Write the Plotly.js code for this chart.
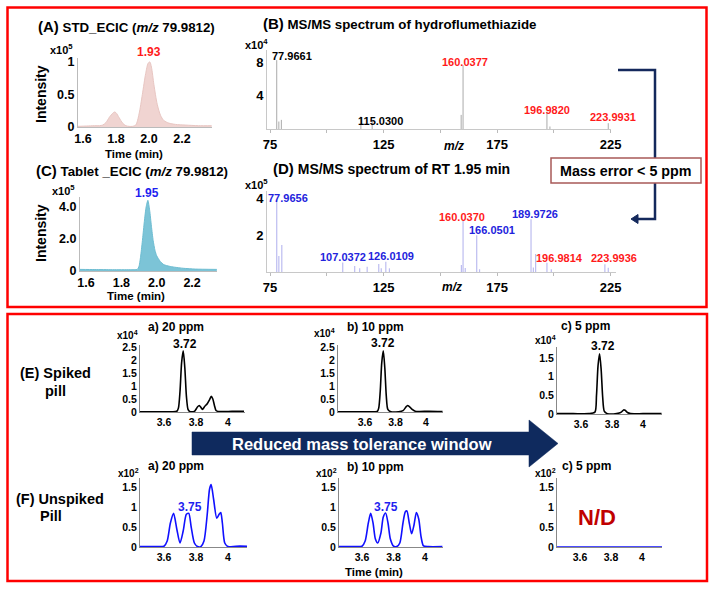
<!DOCTYPE html>
<html><head><meta charset="utf-8">
<script src="https://cdn.plot.ly/plotly-3.0.1.min.js"></script>
<style>html,body{margin:0;padding:0;background:#fff}#chart{width:715px;height:589px}</style>
</head><body><div id="chart"></div>
<script>
// ---------------- DATA ----------------
// (A) STD ECIC, intensity x10^5
const aTime = [1.57,1.62,1.67,1.70,1.72,1.74,1.76,1.78,1.79,1.80,1.82,1.84,1.86,1.88,1.90,1.92,1.94,1.96,1.98,1.995,2.005,2.015,2.03,2.05,2.07,2.09,2.12,2.16,2.22,2.30,2.38];
const aInt  = [0.01,0.015,0.02,0.02,0.03,0.07,0.15,0.21,0.23,0.22,0.14,0.06,0.02,0.01,0.01,0.03,0.2,0.5,0.82,0.98,1.0,0.92,0.65,0.35,0.18,0.1,0.06,0.04,0.03,0.02,0.02];
// (C) Tablet ECIC, intensity x10^5
const cTime = [1.566,1.65,1.75,1.85,1.89,1.90,1.91,1.92,1.93,1.94,1.95,1.96,1.97,1.98,1.99,2.00,2.02,2.04,2.07,2.10,2.15,2.22,2.34];
const cInt  = [0.1,0.09,0.08,0.08,0.1,0.3,1.0,2.0,3.1,4.0,4.42,3.8,2.8,1.9,1.3,0.95,0.6,0.4,0.3,0.24,0.17,0.12,0.1];
// (B) MS/MS spectrum of standard, intensity x10^4
const bMz  = [77.9661,78.9,80.0,115.03,120.0,159.2,160.0377,196.982,198.3,223.9931];
const bInt = [8.3,0.9,1.1,1.5,0.85,1.7,7.7,2.1,0.3,0.7];
// (D) MS/MS spectrum of RT 1.95 min, intensity x10^5
const dMz  = [77.9656,78.9,80.2,107.0372,112.3,114.5,117.8,122.9,124.0,126.0109,127.6,159.3,160.037,161.0,166.0501,167.3,189.9726,191.0,192.0,196.9814,198.9,222.5,223.9936];
const dInt = [3.82,0.87,1.47,0.52,0.33,0.2,0.29,0.44,0.2,0.56,0.2,0.38,2.79,0.22,2.0,0.15,2.86,0.25,0.98,0.5,0.15,0.42,0.23];
// (E) Spiked pill EIC, intensity x10^4
const eaTime = [3.45,3.50,3.55,3.60,3.65,3.68,3.69,3.70,3.71,3.72,3.73,3.74,3.75,3.76,3.78,3.79,3.81,3.82,3.83,3.84,3.855,3.87,3.885,3.895,3.905,3.915,3.925,3.94,4.00,4.05,4.10];
const eaInt  = [0.01,0.01,0.01,0.01,0.01,0.03,0.15,0.8,1.9,2.35,1.7,0.6,0.1,0.02,0.01,0.02,0.2,0.25,0.18,0.1,0.22,0.32,0.48,0.6,0.5,0.25,0.06,0.02,0.02,0.03,0.03];
const ebTime = [3.42,3.55,3.65,3.68,3.69,3.70,3.71,3.72,3.73,3.74,3.75,3.77,3.82,3.85,3.87,3.88,3.89,3.91,3.93,3.96,4.02,4.11];
const ebInt  = [0.01,0.01,0.01,0.02,0.15,0.8,1.9,2.35,1.7,0.6,0.1,0.01,0.01,0.05,0.2,0.25,0.22,0.1,0.03,0.02,0.03,0.02];
const ecTime = [3.445,3.55,3.65,3.69,3.70,3.71,3.72,3.73,3.74,3.75,3.77,3.83,3.86,3.875,3.885,3.90,3.92,4.0,4.12];
const ecInt  = [0.01,0.01,0.01,0.05,0.5,1.3,1.62,1.2,0.45,0.08,0.01,0.01,0.05,0.11,0.1,0.04,0.01,0.01,0.01];
// (F) Unspiked pill EIC, intensity x10^2
const faTime = [3.45,3.55,3.60,3.62,3.64,3.66,3.68,3.70,3.72,3.74,3.755,3.77,3.79,3.81,3.83,3.85,3.87,3.885,3.895,3.91,3.93,3.945,3.955,3.965,3.98,4.00,4.05,4.12];
const faInt  = [0.01,0.01,0.02,0.15,0.6,0.84,0.45,0.1,0.4,0.82,0.84,0.5,0.1,0.01,0.01,0.15,0.8,1.45,1.56,1.2,0.72,0.82,0.86,0.6,0.1,0.01,0.02,0.02];
const fbTime = [3.454,3.55,3.60,3.62,3.64,3.655,3.67,3.685,3.70,3.72,3.735,3.75,3.765,3.78,3.80,3.82,3.84,3.86,3.875,3.885,3.90,3.915,3.93,3.945,3.96,3.975,3.99,4.02,4.11];
const fbInt  = [0.01,0.01,0.02,0.15,0.6,0.84,0.6,0.2,0.1,0.35,0.75,0.85,0.6,0.2,0.02,0.01,0.1,0.6,0.88,0.9,0.6,0.33,0.55,0.86,0.7,0.25,0.03,0.01,0.01];
const fcTime = [3.452,3.6,3.8,4.0,4.129];
const fcInt  = [0,0,0,0,0];
// tick labels
const acXTicks = [1.6,1.8,2.0,2.2];
const acXText  = ['1.6','1.8','2.0','2.2'];
const aYTicks = [0,0.5,1];
const aYText  = ['0','0.5','1'];
const cYTicks = [0,2,4];
const cYText  = ['0','2.0','4.0'];
const bYTicks = [4,8];
const dYTicks = [2,4];
const mzTicks = [75,125,175,225];
const efXTicks = [3.6,3.8,4.0];
const efXText  = ['3.6','3.8','4'];
const e1YTicks = [0,0.5,1,1.5,2,2.5];
const e1YText  = ['0','0.5','1','1.5','2','2.5'];
const e2YTicks = [0,0.5,1,1.5];
const e2YText  = ['0','0.5','1','1.5'];

// ---------------- LAYOUT HELPERS ----------------
const W = 715, H = 589;
const fx = p => p / W, fy = p => 1 - p / H;
const FONT = '"Liberation Sans", Arial, sans-serif';

function xa(x0, x1, range, size, extra) {
  return Object.assign({
    domain: [fx(x0), fx(x1)], range: range, showline: true, linewidth: 1, linecolor: '#999',
    showgrid: false, zeroline: false, ticks: '', fixedrange: true,
    tickfont: {family: FONT, size: size, color: '#000', weight: 'bold'}
  }, extra || {});
}
function ya(y0, y1, range, size, extra) {
  return Object.assign({
    domain: [fy(y1), fy(y0)], range: range, showline: true, linewidth: 1, linecolor: '#999',
    showgrid: false, zeroline: false, ticks: '', fixedrange: true,
    tickfont: {family: FONT, size: size, color: '#000', weight: 'bold'}
  }, extra || {});
}
function sticks(mz, it) {
  const x = [], y = [];
  mz.forEach((m, i) => { x.push(m, m, null); y.push(0, it[i], null); });
  return {x, y};
}
function ann(text, x, y, size, color, extra) {
  return Object.assign({
    text: text, x: fx(x), y: fy(y), xref: 'paper', yref: 'paper', showarrow: false,
    xanchor: 'center', yanchor: 'middle',
    font: {family: FONT, size: size, color: color || '#000', weight: 'bold'}
  }, extra || {});
}
function pathStr(pts) {
  return 'M' + pts.map(p => fx(p[0]).toFixed(5) + ',' + fy(p[1]).toFixed(5)).join(' L') + ' Z';
}

// ---------------- TRACES ----------------
const bS = sticks(bMz, bInt), dS = sticks(dMz, dInt);
const traces = [
  {x: aTime, y: aInt, xaxis: 'x', yaxis: 'y', type: 'scatter', mode: 'lines', fill: 'tozeroy',
   fillcolor: '#f0d4d1', line: {color: '#e8c6c2', width: 1, shape: 'spline', smoothing: 0.8}, hoverinfo: 'skip'},
  {x: cTime, y: cInt, xaxis: 'x2', yaxis: 'y2', type: 'scatter', mode: 'lines', fill: 'tozeroy',
   fillcolor: '#7cc4d7', line: {color: '#6dbdd2', width: 1, shape: 'spline', smoothing: 0.6}, hoverinfo: 'skip'},
  {x: bS.x, y: bS.y, xaxis: 'x3', yaxis: 'y3', type: 'scatter', mode: 'lines',
   line: {color: '#aaaaaa', width: 1}, hoverinfo: 'skip'},
  {x: dS.x, y: dS.y, xaxis: 'x4', yaxis: 'y4', type: 'scatter', mode: 'lines',
   line: {color: '#bcbcf0', width: 1.2}, hoverinfo: 'skip'},
  {x: eaTime, y: eaInt, xaxis: 'x5', yaxis: 'y5', type: 'scatter', mode: 'lines',
   line: {color: '#000', width: 1.6, shape: 'spline', smoothing: 0.7}, hoverinfo: 'skip'},
  {x: ebTime, y: ebInt, xaxis: 'x6', yaxis: 'y6', type: 'scatter', mode: 'lines',
   line: {color: '#000', width: 1.6, shape: 'spline', smoothing: 0.7}, hoverinfo: 'skip'},
  {x: ecTime, y: ecInt, xaxis: 'x7', yaxis: 'y7', type: 'scatter', mode: 'lines',
   line: {color: '#000', width: 1.6, shape: 'spline', smoothing: 0.7}, hoverinfo: 'skip'},
  {x: faTime, y: faInt, xaxis: 'x8', yaxis: 'y8', type: 'scatter', mode: 'lines',
   line: {color: '#1010ff', width: 1.6, shape: 'spline', smoothing: 0.7}, hoverinfo: 'skip'},
  {x: fbTime, y: fbInt, xaxis: 'x9', yaxis: 'y9', type: 'scatter', mode: 'lines',
   line: {color: '#1010ff', width: 1.6, shape: 'spline', smoothing: 0.7}, hoverinfo: 'skip'},
  {x: fcTime, y: fcInt, xaxis: 'x10', yaxis: 'y10', type: 'scatter', mode: 'lines',
   line: {color: '#1010ff', width: 1.6}, hoverinfo: 'skip'}
];

// ---------------- LAYOUT ----------------
const mzExtra = {tickvals: mzTicks, ticktext: mzTicks.map(String), ticks: 'outside', ticklen: 3, tickcolor: '#bbb',
  minor: {tickvals: [100,150,200], ticks: 'outside', ticklen: 3, tickcolor: '#bbb'}, linecolor: '#c8c8c8'};
const efX = {tickvals: efXTicks, ticktext: efXText, linecolor: '#888'};
const layout = {
  width: W, height: H, margin: {l: 0, r: 0, t: 0, b: 0},
  paper_bgcolor: '#fff', plot_bgcolor: 'rgba(0,0,0,0)', showlegend: false,
  xaxis:  xa(78, 212, [1.57, 2.382], 12.5, {anchor: 'y', tickvals: acXTicks, ticktext: acXText, linecolor: '#bbb'}),
  yaxis:  ya(58, 127, [0, 1.06], 12.5, {anchor: 'x', tickvals: aYTicks, ticktext: aYText, linecolor: '#bbb'}),
  xaxis2: xa(80, 217, [1.566, 2.341], 12.5, {anchor: 'y2', tickvals: acXTicks, ticktext: acXText, linecolor: '#bbb'}),
  yaxis2: ya(197, 271, [0, 4.63], 12.5, {anchor: 'x2', tickvals: cYTicks, ticktext: cYText, linecolor: '#bbb'}),
  xaxis3: xa(267, 611, [73.68, 225.2], 13, Object.assign({anchor: 'y3'}, mzExtra)),
  yaxis3: ya(50, 129, [0, 9.52], 13, {anchor: 'x3', tickvals: bYTicks, ticktext: bYTicks.map(String), linecolor: '#c8c8c8'}),
  xaxis4: xa(267, 616, [73.68, 227.4], 13, Object.assign({anchor: 'y4'}, mzExtra)),
  yaxis4: ya(191, 272, [0, 4.4], 13, {anchor: 'x4', tickvals: dYTicks, ticktext: dYTicks.map(String), linecolor: '#c8c8c8'}),
  xaxis5: xa(140, 245, [3.45, 4.106], 10.5, Object.assign({anchor: 'y5'}, efX)),
  yaxis5: ya(345, 412, [0, 2.577], 10.5, {anchor: 'x5', tickvals: e1YTicks, ticktext: e1YText, linecolor: '#888'}),
  xaxis6: xa(338, 443, [3.422, 4.113], 10.5, Object.assign({anchor: 'y6'}, efX)),
  yaxis6: ya(345, 412, [0, 2.577], 10.5, {anchor: 'x6', tickvals: e1YTicks, ticktext: e1YText, linecolor: '#888'}),
  xaxis7: xa(557, 662, [3.445, 4.123], 10.5, Object.assign({anchor: 'y7'}, efX)),
  yaxis7: ya(347, 414, [0, 1.8], 10.5, {anchor: 'x7', tickvals: e2YTicks, ticktext: e2YText, linecolor: '#888'}),
  xaxis8: xa(140, 247, [3.45, 4.119], 10.5, Object.assign({anchor: 'y8'}, efX)),
  yaxis8: ya(478, 547, [0, 1.725], 10.5, {anchor: 'x8', tickvals: e2YTicks, ticktext: e2YText, linecolor: '#888'}),
  xaxis9: xa(339, 443, [3.454, 4.114], 10.5, Object.assign({anchor: 'y9'}, efX)),
  yaxis9: ya(478, 547, [0, 1.725], 10.5, {anchor: 'x9', tickvals: e2YTicks, ticktext: e2YText, linecolor: '#888'}),
  xaxis10: xa(557, 662, [3.452, 4.129], 10.5, Object.assign({anchor: 'y10'}, efX)),
  yaxis10: ya(478, 547, [0, 1.725], 10.5, {anchor: 'x10', tickvals: e2YTicks, ticktext: e2YText, linecolor: '#888'}),
  shapes: [
    {type: 'rect', xref: 'paper', yref: 'paper', x0: fx(7.5), x1: fx(706.5), y0: fy(7.5), y1: fy(307), line: {color: '#ff0000', width: 2.5}},
    {type: 'rect', xref: 'paper', yref: 'paper', x0: fx(7.5), x1: fx(707), y0: fy(314), y1: fy(581), line: {color: '#ff0000', width: 2.5}},
    {type: 'path', xref: 'paper', yref: 'paper', path: 'M' + fx(618) + ',' + fy(70) + ' L' + fx(655) + ',' + fy(70) + ' L' + fx(655) + ',' + fy(219) + ' L' + fx(637) + ',' + fy(219),
     line: {color: '#14295c', width: 2.5}},
    {type: 'path', xref: 'paper', yref: 'paper', path: pathStr([[638,214.5],[631,219],[638,223.5]]), fillcolor: '#14295c', line: {color: '#14295c', width: 1}},
    {type: 'rect', xref: 'paper', yref: 'paper', x0: fx(551), x1: fx(701), y0: fy(158), y1: fy(183), fillcolor: '#fff', line: {color: '#a85a58', width: 1.5}},
    {type: 'path', xref: 'paper', yref: 'paper', path: pathStr([[192,432],[529,432],[529,420],[558,443.5],[529,467],[529,455],[192,455]]),
     fillcolor: '#0f2a5e', line: {color: '#0f2a5e', width: 0.5}}
  ],
  annotations: [
    ann('<span style="font-size:15px">(A)</span> STD_ECIC (<i>m/z</i> 79.9812)', 126, 27, 13.3),
    ann('<span style="font-size:15px">(C)</span> Tablet _ECIC (<i>m/z</i> 79.9812)', 132, 171, 13.3),
    ann('<span style="font-size:15px">(B)</span> MS/MS spectrum of hydroflumethiazide', 400, 23, 13.3),
    ann('<span style="font-size:15px">(D)</span> MS/MS spectrum of RT 1.95 min', 391, 168, 14),
    ann('x10<sup>5</sup>', 62, 49, 11),
    ann('x10<sup>5</sup>', 63, 190, 11),
    ann('x10<sup>4</sup>', 256, 44, 11),
    ann('x10<sup>5</sup>', 256, 184, 11),
    ann('Intensity', 41, 94, 14, '#000', {textangle: -90}),
    ann('Intensity', 41, 233, 14, '#000', {textangle: -90}),
    ann('Time (min)', 134, 154, 11.5),
    ann('Time (min)', 136, 296, 11.5),
    ann('1.93', 149, 52, 12, '#ff1a1a'),
    ann('1.95', 147, 193, 12, '#1f1ff0'),
    ann('<i>m/z</i>', 454, 146, 12),
    ann('<i>m/z</i>', 452, 287, 12),
    // B peak labels
    ann('77.9661', 292, 56, 11),
    ann('115.0300', 380, 121, 11),
    ann('160.0377', 465, 62, 11, '#ff1a1a'),
    ann('196.9820', 547, 110, 11, '#ff1a1a'),
    ann('223.9931', 613, 117, 11, '#ff1a1a'),
    // D peak labels
    ann('77.9656', 288, 198, 11, '#2323dd'),
    ann('107.0372', 343, 257, 11, '#2323dd'),
    ann('126.0109', 391, 256, 11, '#2323dd'),
    ann('160.0370', 462, 217, 11, '#ff1a1a'),
    ann('166.0501', 492, 230, 11, '#2323dd'),
    ann('189.9726', 535, 214, 11, '#2323dd'),
    ann('196.9814', 559, 258, 11, '#ff1a1a'),
    ann('223.9936', 614, 258, 11, '#ff1a1a'),
    ann('Mass error &lt; 5 ppm', 626, 170.5, 14.3),
    // E / F
    ann('(E) Spiked', 55, 373, 14.5),
    ann('pill', 55, 391, 14.5),
    ann('(F) Unspiked', 60, 499, 14.5),
    ann('Pill', 51, 516, 14.5),
    ann('a) 20 ppm', 176, 327, 12),
    ann('b) 10 ppm', 375, 327, 12),
    ann('c) 5 ppm', 585, 326, 12),
    ann('a) 20 ppm', 176, 466, 12),
    ann('b) 10 ppm', 375, 467, 12),
    ann('c) 5 ppm', 586, 466, 12),
    ann('x10<sup>4</sup>', 127, 335, 10),
    ann('x10<sup>4</sup>', 324, 333, 10),
    ann('x10<sup>4</sup>', 545, 340, 10),
    ann('x10<sup>2</sup>', 128, 473, 10),
    ann('x10<sup>2</sup>', 326, 473, 10),
    ann('x10<sup>2</sup>', 545, 473, 10),
    ann('3.72', 185, 344, 12),
    ann('3.72', 383, 343, 12),
    ann('3.72', 603, 346, 12),
    ann('3.75', 190, 507, 12, '#1f1ff0'),
    ann('3.75', 386, 507, 12, '#1f1ff0'),
    ann('N/D', 597, 517, 22, '#c00000'),
    ann('Time (min)', 374, 572, 11.5),
    ann('Reduced mass tolerance window', 362, 444, 16.5, '#fff')
  ]
};

Plotly.newPlot('chart', traces, layout, {displayModeBar: false, staticPlot: true});
</script>
</body></html>
